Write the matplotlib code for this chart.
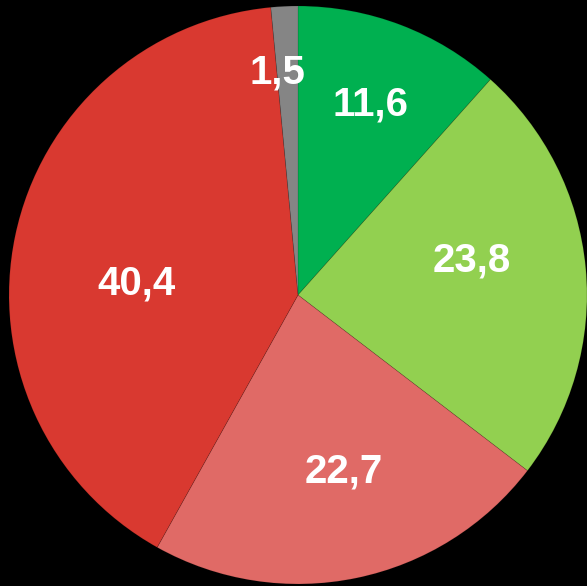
"""
Pie chart of shares (percent), white value labels on a black background.
"""
import matplotlib
matplotlib.use('Agg')
from matplotlib import pyplot as plt

shares = [11.6, 23.8, 22.7, 40.4, 1.5]
colors = ['#00B050', '#92D050', '#E06A66', '#D93930', '#858585']
# label centres, in units of the pie radius
label_xy = [(0.25, 0.66), (0.60, 0.12), (0.16, -0.61), (-0.56, 0.04), (-0.07, 0.77)]

W, H = 587, 586
cx, cy, r = 298, 295, 289

fig = plt.figure(figsize=(W / 100, H / 100), dpi=100, facecolor='black')
ax = fig.add_axes([0, 0, 1, 1])
ax.set_facecolor('black')
ax.pie(shares, colors=colors, startangle=90, counterclock=False, radius=1,
       wedgeprops=dict(linewidth=0.6, edgecolor='#00000022'))
for v, (lx, ly) in zip(shares, label_xy):
	ax.text(lx, ly, f'{v:.1f}'.replace('.', ','), ha='center', va='center',
			color='white', fontsize=29, fontweight='bold', family='Liberation Sans')
ax.set_xlim(-cx / r, (W - cx) / r)
ax.set_ylim(-(H - cy) / r, cy / r)
ax.set_aspect('auto')
ax.axis('off')
fig.savefig('out.png', dpi=100, facecolor='black')
